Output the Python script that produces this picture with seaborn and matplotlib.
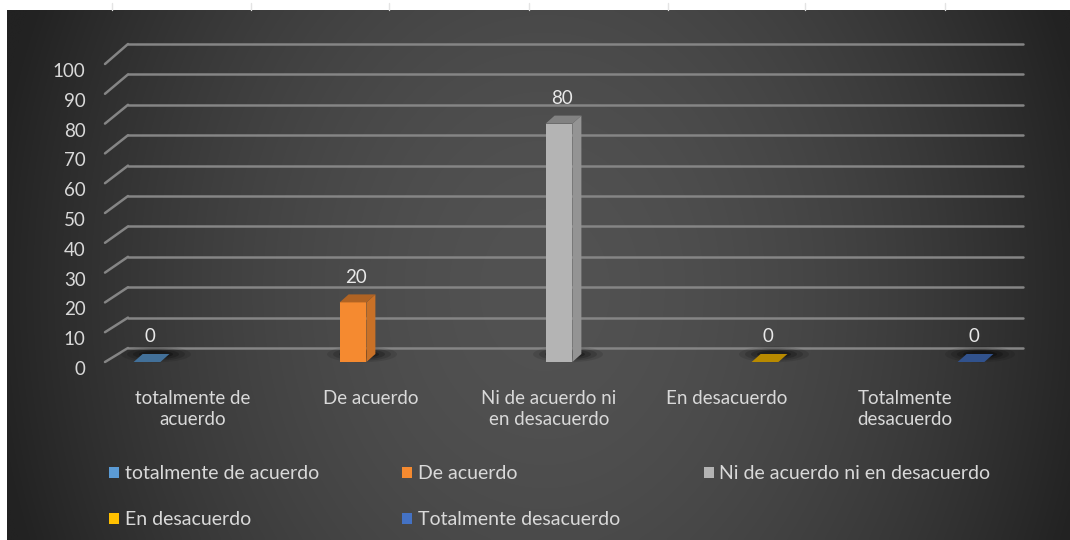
import numpy as np
import pandas as pd
import matplotlib
matplotlib.use("Agg")
import matplotlib.pyplot as plt
import seaborn as sns
from matplotlib.patches import Polygon, Ellipse, Patch, ConnectionPatch
import matplotlib.transforms as mtransforms

# ---- data -------------------------------------------------------------
categories = ["totalmente de acuerdo", "De acuerdo",
              "Ni de acuerdo ni en desacuerdo", "En desacuerdo",
              "Totalmente desacuerdo"]
values = [0, 20, 80, 0, 0]
axis_labels = ["totalmente de\nacuerdo", "De acuerdo",
               "Ni de acuerdo ni\nen desacuerdo", "En desacuerdo",
               "Totalmente\ndesacuerdo"]
y_ticks = list(range(0, 101, 10))
colors = ["#5B9BD5", "#F58A30", "#B4B4B4", "#FFC000", "#4472C4"]

# ---- style ------------------------------------------------------------
sns.set_style("dark")
plt.rcParams["font.family"] = ["Lato", "DejaVu Sans"]
TEXT = "#d9d9d9"
GRID = "#858585"

W, H = 1070, 540
fig = plt.figure(figsize=(W / 100, H / 100), dpi=100)
fig.patch.set_facecolor("white")


def px_rect(left, top, right, bottom):
    return [left / W, 1 - bottom / H, (right - left) / W, (bottom - top) / H]


# ---- radial dark background ------------------------------------------
bg = fig.add_axes([0, 0, 1, 1], zorder=-10)
bg.set_xlim(0, W)
bg.set_ylim(H, 0)
bg.axis("off")
gx, gy = np.meshgrid(np.linspace(7, W, 400), np.linspace(10, H, 200))
r = np.sqrt(((gx - 545) / 560) ** 2 + ((gy - 290) / 700) ** 2)
shade = 0x52 - (0x52 - 0x22) * np.clip(r, 0, 1) ** 1.8
img = np.dstack([shade, shade, shade]) / 255.0
bg.imshow(img, extent=(7, W, H, 10), aspect="auto", interpolation="bicubic")
# faint cell borders in the white strip above the chart
for cx in [112, 251, 389, 529, 668, 805, 945]:
    bg.plot([cx, cx], [3, 10], color="#e4e4e4", lw=1)

# ---- back wall with gridlines ----------------------------------------
ax_back = fig.add_axes(px_rect(128, 44, 1023, 348), zorder=1)
ax_back.set_facecolor("none")
ax_back.set_ylim(0, 100)
ax_back.set_yticks(y_ticks)
ax_back.set_xticks([])
ax_back.tick_params(axis="y", length=0, labelleft=False)
ax_back.grid(axis="y", color=GRID, lw=1.8)
ax_back.grid(axis="x", visible=False)
for ln in ax_back.get_ygridlines():
    ln.set_clip_on(False)
for s in ax_back.spines.values():
    s.set_visible(False)

# ---- front axes: bars --------------------------------------------------
ax = fig.add_axes(px_rect(105, 64, 999, 362), zorder=2)
ax.set_facecolor("none")
df = pd.DataFrame({"categoria": categories, "valor": values})
sns.barplot(data=df, x="categoria", y="valor", hue="categoria",
            order=categories, hue_order=categories, palette=colors,
            dodge=False, width=0.13, legend=False, saturation=1,
            edgecolor="none", ax=ax)
px_per_x = 206.0
px_per_y = 2.98
ax.set_xlim(-42 / px_per_x, 852 / px_per_x)
ax.set_ylim(0, 100)
ax.set_yticks(y_ticks)
ax.set_xticks([])
ax.set_xlabel("")
ax.set_ylabel("")
ax.grid(False)
ax.tick_params(axis="y", length=0, pad=14, labelcolor=TEXT, labelsize=13.5)
down = mtransforms.ScaledTranslation(0, -6 / 100, fig.dpi_scale_trans)
for lab in ax.get_yticklabels():
    lab.set_transform(lab.get_transform() + down)
for s in ax.spines.values():
    s.set_visible(False)

# slanted floor edges joining the value axis to the back wall
for v in y_ticks:
    con = ConnectionPatch(xyA=(0, v), coordsA=ax.get_yaxis_transform(),
                          xyB=(0, v), coordsB=ax_back.get_yaxis_transform(),
                          color=GRID, lw=1.8, zorder=1)
    fig.add_artist(con)

# depth of the bars (side and top faces), floor shadows, value labels
ddx = 9 / px_per_x
ddy = 8 / px_per_y
bars = sorted(ax.patches, key=lambda p: p.get_x())
for p, v in zip(bars, values):
    x0, w, h = p.get_x(), p.get_width(), p.get_height()
    base = np.array(p.get_facecolor()[:3])
    xc = x0 + w / 2
    for k, a in enumerate([0.10, 0.14, 0.20, 0.28]):
        ew = (70 - k * 12) / px_per_x
        eh = (16 - k * 3) / px_per_y
        ax.add_patch(Ellipse((xc + 9 / px_per_x, 2.6), ew, eh,
                             facecolor="black", edgecolor="none",
                             alpha=a, zorder=1, clip_on=False))
    p.set_zorder(3)
    side = Polygon([(x0 + w, 0), (x0 + w, h), (x0 + w + ddx, h + ddy),
                    (x0 + w + ddx, ddy)], closed=True,
                   facecolor=base * 0.82, edgecolor="none", zorder=3)
    top = Polygon([(x0, h), (x0 + w, h), (x0 + w + ddx, h + ddy),
                   (x0 + ddx, h + ddy)], closed=True,
                  facecolor=base * 0.72, edgecolor="none", zorder=4)
    ax.add_patch(side)
    ax.add_patch(top)
    ax.annotate(f"{v}", (xc, v), xytext=(2, 18), textcoords="offset points",
                ha="center", va="center", color="#e8e8e8", fontsize=13.5,
                zorder=5, annotation_clip=False)

# ---- category axis labels ---------------------------------------------
ax_lab = fig.add_axes(px_rect(104, 361, 994, 362), zorder=2)
ax_lab.set_facecolor("none")
ax_lab.set_xlim(-0.5, 4.5)
ax_lab.set_xticks(range(len(axis_labels)))
ax_lab.set_xticklabels(axis_labels, color=TEXT, fontsize=13.5,
                       linespacing=1.3)
ax_lab.set_yticks([])
ax_lab.tick_params(axis="x", length=0, pad=20)
ax_lab.grid(False)
for s in ax_lab.spines.values():
    s.set_visible(False)

# ---- legend (row-wise order across three columns) ---------------------
handles = [Patch(facecolor=c, edgecolor="none") for c in colors]
order = [0, 3, 1, 4, 2]
fig.legend([handles[i] for i in order], [categories[i] for i in order],
           ncol=3, loc="upper left", bbox_to_anchor=(109 / W, 1 - 465 / H),
           frameon=False, fontsize=14, labelcolor=TEXT,
           handlelength=0.5, handleheight=0.5, handletextpad=0.3,
           columnspacing=4.3, labelspacing=1.5, borderaxespad=0,
           borderpad=0)

fig.savefig("out.png", dpi=100)
